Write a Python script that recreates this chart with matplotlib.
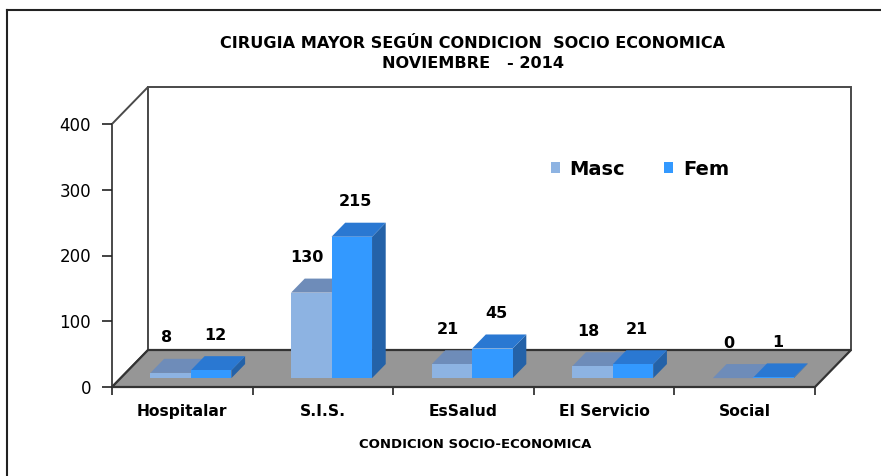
import matplotlib
matplotlib.use("Agg")
import matplotlib.pyplot as plt
from matplotlib.patches import Polygon, Patch
from matplotlib.lines import Line2D

# datos
categorias = ['Hospitalar', 'S.I.S.', 'EsSalud', 'El Servicio', 'Social']
masc = [8, 130, 21, 18, 0]
fem = [12, 215, 45, 21, 1]
series = ['Masc', 'Fem']
y_ticks = [0, 100, 200, 300, 400]

# colores: frente, arriba, lado
col_masc = ('#8DB3E2', '#6E8CB9', '#5A7AA8')
col_fem = ('#3399FF', '#2A78D2', '#2462A8')

W, H = 881, 476
fig = plt.figure(figsize=(W / 100, H / 100), dpi=100)
ax = fig.add_axes([112 / W, (H - 387) / H, (815 - 112) / W, (387 - 124) / H])
ax.set_xlim(-0.5, len(categorias) - 0.5)
ax.set_ylim(0, 400)
for s in ax.spines.values():
    s.set_visible(False)
ax.patch.set_visible(False)

# profundidad 3D en unidades de datos
ddx = 36 / (703 / len(categorias))
ddy = 37 / (263 / 400)
x_left, x_right = -0.5, len(categorias) - 0.5
edge = '#4a4a4a'

# paredes y piso
ax.add_patch(Polygon([(x_left, 0), (x_left, 400), (x_left + ddx, 400 + ddy), (x_left + ddx, ddy)],
                     closed=True, fc='white', ec=edge, lw=1.4, clip_on=False, zorder=1))
ax.add_patch(Polygon([(x_left + ddx, ddy), (x_left + ddx, 400 + ddy), (x_right + ddx, 400 + ddy), (x_right + ddx, ddy)],
                     closed=True, fc='white', ec=edge, lw=1.4, clip_on=False, zorder=1))
ax.add_patch(Polygon([(x_left, 0), (x_right, 0), (x_right + ddx, ddy), (x_left + ddx, ddy)],
                     closed=True, fc='#969696', ec='#333333', lw=1.6, clip_on=False, zorder=2))

# barras 3D
bw = 0.288
f0, f1 = 0.24, 0.62
sx0, sy0 = f0 * ddx, f0 * ddy
sx1, sy1 = f1 * ddx, f1 * ddy
for i in range(len(categorias)):
    for j, (vals, cols) in enumerate([(masc, col_masc), (fem, col_fem)]):
        v = vals[i]
        x0 = i - bw + j * bw
        front = [(x0 + sx0, sy0), (x0 + bw + sx0, sy0), (x0 + bw + sx0, v + sy0), (x0 + sx0, v + sy0)]
        top = [(x0 + sx0, v + sy0), (x0 + bw + sx0, v + sy0), (x0 + bw + sx1, v + sy1), (x0 + sx1, v + sy1)]
        side = [(x0 + bw + sx0, sy0), (x0 + bw + sx0, v + sy0), (x0 + bw + sx1, v + sy1), (x0 + bw + sx1, sy1)]
        ax.add_patch(Polygon(side, closed=True, fc=cols[2], ec='none', clip_on=False, zorder=3))
        ax.add_patch(Polygon(top, closed=True, fc=cols[1], ec='none', clip_on=False, zorder=3))
        ax.add_patch(Polygon(front, closed=True, fc=cols[0], ec='none', clip_on=False, zorder=3))
        ax.annotate(str(v), xy=(x0 + bw / 2 + sx0, v + sy1), xytext=(-4 if j == 0 else 4, 21),
                    textcoords='offset pixels', ha='center', va='center', fontsize=11.5,
                    fontweight='bold', zorder=5)

# ejes
ax.set_yticks(y_ticks)
ax.set_yticklabels([str(t) for t in y_ticks], fontsize=12)
ax.tick_params(axis='y', length=7, width=1.2, pad=8, color='#222222')
ax.set_xticks(range(len(categorias)))
ax.set_xticklabels(categorias, fontsize=11.2, fontweight='bold')
ax.set_xticks([k - 0.5 for k in range(len(categorias) + 1)], minor=True)
ax.tick_params(axis='x', which='major', length=0, pad=12)
ax.tick_params(axis='x', which='minor', length=6, width=1.2, color='#222222')

# leyenda
handles = [Patch(fc=col_masc[0], ec='none'), Patch(fc=col_fem[0], ec='none')]
fig.legend(handles, series, loc='center left', bbox_to_anchor=(551 / W, 1 - 169 / H), ncol=2,
           frameon=False, prop={'size': 14, 'weight': 'bold'}, handlelength=0.46, handleheight=0.55,
           handletextpad=0.5, columnspacing=2.0, borderaxespad=0, borderpad=0)

# titulo
fig.text(473 / W, 1 - 44 / H, 'CIRUGIA MAYOR SEGÚN CONDICION  SOCIO ECONOMICA', ha='center', va='center',
         fontsize=11.6, fontweight='bold')
fig.text(473 / W, 1 - 64 / H, 'NOVIEMBRE   - 2014', ha='center', va='center', fontsize=11.6, fontweight='bold')
fig.text(475 / W, 1 - 445 / H, 'CONDICION SOCIO-ECONOMICA', ha='center', va='center', fontsize=9.5,
         fontweight='bold')

# marco exterior
fig.add_artist(Line2D([7 / W, 7 / W], [0, 1 - 10 / H], color='#222222', lw=1.5))
fig.add_artist(Line2D([7 / W, 1], [1 - 10 / H, 1 - 10 / H], color='#222222', lw=1.5))

fig.savefig('out.png', dpi=100)
